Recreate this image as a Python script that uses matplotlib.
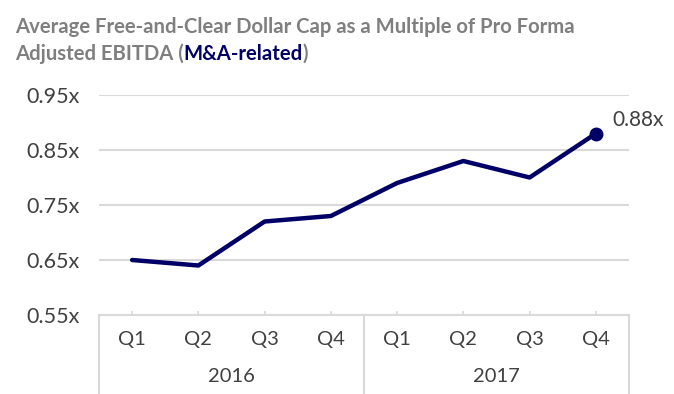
import matplotlib
matplotlib.use("Agg")
import matplotlib.pyplot as plt

# data
quarters = ["Q1", "Q2", "Q3", "Q4", "Q1", "Q2", "Q3", "Q4"]
years = ["2016", "2017"]
multiples = [0.65, 0.64, 0.72, 0.73, 0.79, 0.83, 0.80, 0.88]
y_ticks = [0.55, 0.65, 0.75, 0.85, 0.95]

navy = "#000066"
gray_title = "#7f7f7f"
label_col = "#404040"
grid_col = "#d9d9d9"
font = "Lato"

fig = plt.figure(figsize=(6.74, 3.94), dpi=100)
ax = fig.add_axes([99 / 674, 79 / 394, 530 / 674, 220 / 394])

xs = [i + 0.5 for i in range(len(multiples))]
ax.plot(xs, multiples, color=navy, lw=3.2, solid_capstyle="round", solid_joinstyle="round")
ax.plot(xs[-1], multiples[-1], "o", color=navy, ms=9)
ax.annotate(f"{multiples[-1]:.2f}x", (xs[-1], multiples[-1]), xytext=(12, 10),
            textcoords="offset points", fontsize=15, color=label_col,
            family=font, va="center", ha="left")

ax.set_xlim(0, len(multiples))
ax.set_ylim(y_ticks[0], y_ticks[-1])
ax.set_yticks(y_ticks)
ax.set_yticklabels([f"{v:.2f}x" for v in y_ticks], fontsize=15.5, color=label_col, family=font)
ax.tick_params(axis="y", length=0, pad=14)
ax.grid(axis="y", color=grid_col, lw=1.5)
ax.set_axisbelow(True)
for s in ["top", "right", "left"]:
    ax.spines[s].set_visible(False)
ax.spines["bottom"].set_color(grid_col)
ax.spines["bottom"].set_linewidth(1.5)

# small ticks at category centres, pointing up
ax.set_xticks(xs)
ax.set_xticklabels([])
ax.tick_params(axis="x", direction="in", length=3, color=grid_col, width=1.2)

# quarter and year labels
for x, q in zip(xs, quarters):
    ax.text(x, -0.11, q, transform=ax.get_xaxis_transform(), ha="center", va="center",
            fontsize=14.5, color=label_col, family=font)
for k, yr in enumerate(years):
    ax.text(4 * k + 2, -0.28, yr, transform=ax.get_xaxis_transform(), ha="center", va="center",
            fontsize=14.5, color=label_col, family=font)
for xb in [0, 4, 8]:
    ax.plot([xb, xb], [0, -0.37], transform=ax.get_xaxis_transform(), color=grid_col,
            lw=1.5, clip_on=False)

# two-line title, last part in navy
fig.text(15 / 674, 1 - 33 / 394, "Average Free-and-Clear Dollar Cap as a Multiple of Pro Forma",
         fontsize=14.6, fontweight="bold", color=gray_title, family=font, va="baseline")
t1 = fig.text(15 / 674, 1 - 60 / 394, "Adjusted EBITDA (", fontsize=14.6, fontweight="bold",
              color=gray_title, family=font, va="baseline")
t2 = ax.annotate("M&A-related", xycoords=t1, xy=(1, 0), va="bottom", fontsize=14.6,
                 fontweight="bold", color=navy, family=font, annotation_clip=False)
ax.annotate(")", xycoords=t2, xy=(1, 0), va="bottom", fontsize=14.6, fontweight="bold",
            color=gray_title, family=font, annotation_clip=False)

fig.savefig("out.png", dpi=100)
